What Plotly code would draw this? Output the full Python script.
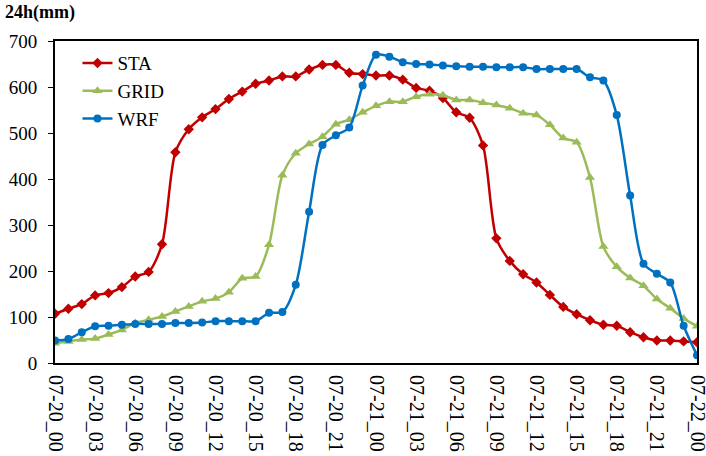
import plotly.graph_objects as go

# hourly time steps 07-20_00 .. 07-22_00
hours = list(range(49))
time_labels = ["07-%d_%02d" % (20 + h // 24, h % 24) for h in hours]

sta = [107, 118, 128, 147, 152, 165, 188, 198, 258, 458,
       508, 534, 552, 574, 590, 607, 614, 623, 623, 638,
       648, 648, 631, 628, 625, 625, 616, 598, 592, 576,
       545, 533, 473, 271, 222, 193, 175, 148, 122, 106,
       93, 83, 81, 67, 56, 49, 49, 47, 45]
grid = [43, 47, 51, 53, 62, 72, 87, 94, 101, 112,
        123, 134, 140, 154, 184, 188, 257, 408, 456, 476,
        492, 519, 529, 545, 559, 568, 568, 579, 584, 582,
        572, 572, 566, 561, 554, 543, 539, 518, 489, 480,
        403, 253, 209, 185, 168, 139, 119, 97, 80]
wrf = [49, 52, 67, 80, 81, 83, 85, 85, 85, 87,
       87, 88, 91, 91, 91, 91, 109, 111, 170, 329,
       474, 495, 512, 603, 670, 666, 654, 650, 649, 647,
       645, 644, 644, 643, 643, 643, 639, 639, 639, 639,
       621, 614, 539, 364, 216, 194, 175, 81, 17]

label_idx = hours[::3]
tickmark_idx = hours[::2]

FONT = "Liberation Serif"

fig = go.Figure()
series = [("STA", sta, "#C00000", "diamond", 8),
          ("GRID", grid, "#9BBB59", "triangle-up", 9),
          ("WRF", wrf, "#0070C0", "circle", 8)]
for name, vals, col, sym, sz in series:
    fig.add_trace(go.Scatter(x=hours, y=vals, name=name, mode="lines+markers",
                             line=dict(color=col, width=2.5, shape="spline", smoothing=0.8),
                             marker=dict(symbol=sym, size=sz, color=col)))

fig.update_layout(
    width=706, height=456,
    margin=dict(l=55, r=9, t=41, b=93),
    plot_bgcolor="white", paper_bgcolor="white",
    font=dict(family=FONT, size=19, color="black"),
    showlegend=True,
    legend=dict(x=0.035, y=0.99, xanchor="left", yanchor="top",
                bgcolor="rgba(0,0,0,0)", font=dict(size=19, family=FONT)),
    xaxis=dict(range=[0, 48], tickvals=[hours[i] for i in label_idx],
               ticktext=[time_labels[i] for i in label_idx], tickangle=90,
               tickfont=dict(size=20),
               ticks="", showgrid=False, zeroline=False, automargin=False,
               showline=True, linecolor="black", linewidth=2, mirror=True,
               ticklabelstandoff=6, ticklabeloverflow="allow"),
    xaxis2=dict(range=[0, 48], overlaying="x", anchor="y", side="bottom",
                tickvals=[hours[i] for i in tickmark_idx], ticks="outside",
                ticklen=7, tickwidth=1.3, tickcolor="black", automargin=False,
                showticklabels=False, showgrid=False, zeroline=False),
    yaxis=dict(range=[0, 700], dtick=100, ticks="outside", ticklen=5,
               tickwidth=1.3, tickcolor="black", showgrid=False, zeroline=False,
               showline=True, linecolor="black", linewidth=2, mirror=True,
               automargin=False, ticklabelstandoff=7),
)

fig.add_annotation(text="<b>24h(mm)</b>", xref="paper", yref="paper",
                   x=-52 / 642, y=1 + 29 / 322, xanchor="left", yanchor="middle",
                   showarrow=False, font=dict(family=FONT, size=18, color="black"))

fig.write_html("out.html", config={"displayModeBar": False},
               post_script="document.body.style.margin='0';")
